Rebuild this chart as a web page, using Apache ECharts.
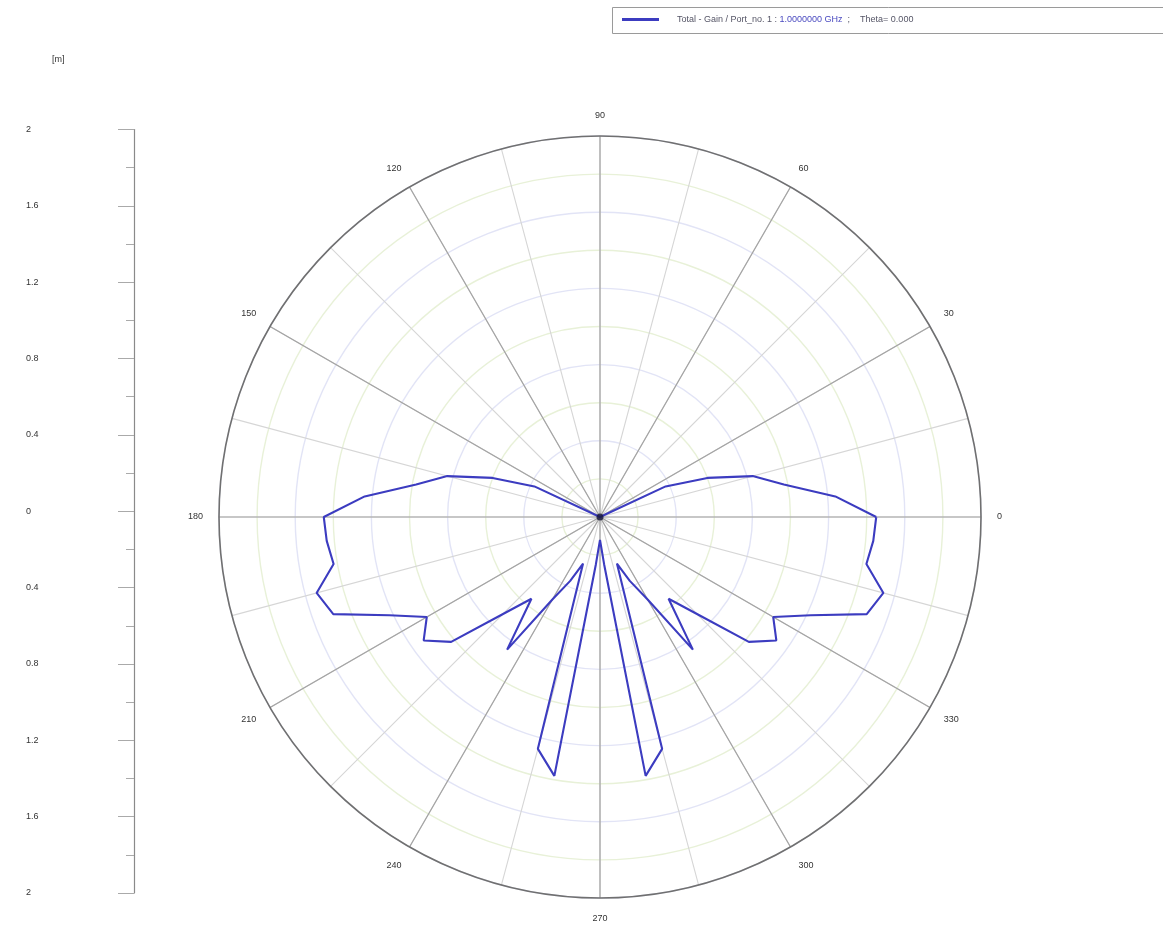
<!DOCTYPE html>
<html>
<head>
<meta charset="utf-8">
<title>Polar gain pattern</title>
<script src="https://cdn.jsdelivr.net/npm/echarts@6/dist/echarts.min.js"></script>
<style>
  html, body { margin: 0; padding: 0; background: #ffffff; }
  #chart { width: 1163px; height: 939px; }
</style>
</head>
<body>
<div id="chart"></div>
<script>
// Direction of each sample, degrees (0 = right, counter-clockwise)
const angleDeg = [
  0, 5, 10, 15, 20, 25, 30, 35, 40, 45, 50, 55, 60, 65, 70, 75, 80, 85,
  90, 95, 100, 105, 110, 115, 120, 125, 130, 135, 140, 145, 150, 155, 160, 165, 170, 175,
  180, 185, 190, 195, 200, 205, 210, 215, 220, 225, 230, 235, 240, 245, 250, 255, 260, 265,
  270, 275, 280, 285, 290, 295, 300, 305, 310, 315, 320, 325, 330, 335, 340, 345, 350, 355,
  360
];

// Total gain magnitude at each direction
const gainValues = [
  1.45, 1.24, 0.98, 0.83, 0.60, 0.38, 0, 0, 0, 0, 0, 0, 0, 0, 0, 0, 0, 0,
  0, 0, 0, 0, 0, 0, 0, 0, 0, 0, 0, 0, 0, 0.38, 0.60, 0.83, 0.98, 1.24,
  1.45, 1.44, 1.42, 1.54, 1.49, 1.22, 1.05, 1.13, 1.02, 0.72, 0.56, 0.85, 0.50, 0.37, 0.26, 1.26, 1.38, 0.25,
  0.12, 0.25, 1.38, 1.26, 0.26, 0.37, 0.50, 0.85, 0.56, 0.72, 1.02, 1.13, 1.05, 1.22, 1.49, 1.54, 1.42, 1.44,
  1.45
];

// Side ruler range and spacing
const rulerMin = -2;
const rulerMax = 2;
const rulerStep = 0.4;

// Polar grid spacing
const radiusMax = 2;
const ringStep = 0.2;
const fineSpokeStep = 15;
const mainSpokeStep = 30;

// Origin marker
const originPoint = [[0, 0]];

const seriesName = 'Total - Gain / Port_no. 1 : 1.0000000 GHz ;   Theta= 0.000';
const unitLabel = '[m]';

const patternData = angleDeg.map((a, i) => [gainValues[i], a]);

const font = 'Liberation Sans, Arial, sans-serif';
const center = [600, 517];
const radius = 381;
const chart = echarts.init(document.getElementById('chart'), null, { renderer: 'canvas' });

chart.setOption({
  animation: false,
  backgroundColor: '#ffffff',
  textStyle: { fontFamily: font },
  graphic: [
    {
      type: 'rect',
      shape: { x: 612.5, y: 7.5, width: 560, height: 26 },
      style: { fill: '#ffffff', stroke: '#9a9a9a', lineWidth: 1 },
      z: 0
    },
    {
      type: 'text',
      left: 52, top: 55,
      style: { text: unitLabel, fill: '#333333', font: '9px ' + font }
    }
  ],
  legend: {
    data: [seriesName],
    left: 622,
    top: 15,
    icon: 'rect',
    itemWidth: 37,
    itemHeight: 3,
    padding: 0,
    formatter: () => '{a|Total - Gain / Port_no. 1 : }{b|1.0000000 GHz}{a|  ;    Theta= 0.000}',
    textStyle: {
      fontSize: 9,
      fontFamily: font,
      padding: [0, 0, 0, 13],
      rich: {
        a: { fontSize: 9, color: '#555566', fontFamily: font },
        b: { fontSize: 9, color: '#4a4ac0', fontFamily: font }
      }
    }
  },
  grid: { left: 134, top: 129.5, width: 1, height: 763.5 },
  xAxis: { type: 'value', show: false, min: 0, max: 1 },
  yAxis: {
    type: 'value',
    min: rulerMin,
    max: rulerMax,
    interval: rulerStep,
    axisLine: { show: true, lineStyle: { color: '#8a8a8a', width: 1.2 } },
    axisTick: { show: true, length: 16, lineStyle: { color: '#aaaaaa' } },
    minorTick: { show: true, splitNumber: 2, length: 8, lineStyle: { color: '#aaaaaa' } },
    splitLine: { show: false },
    minorSplitLine: { show: false },
    axisLabel: {
      align: 'left',
      margin: 108,
      fontSize: 9,
      color: '#333333',
      fontFamily: font,
      formatter: v => String(+Math.abs(v).toFixed(1))
    }
  },
  polar: [
    { center: center, radius: radius },
    { center: center, radius: radius }
  ],
  angleAxis: [
    {
      // fine spokes every 15 degrees
      polarIndex: 0,
      type: 'value',
      min: 0,
      max: 360,
      interval: fineSpokeStep,
      startAngle: 0,
      clockwise: false,
      axisLine: { show: false },
      axisTick: { show: false },
      axisLabel: { show: false },
      splitLine: { show: true, lineStyle: { color: '#d6d6d6', width: 1.1 } }
    },
    {
      // main spokes and labels every 30 degrees
      polarIndex: 1,
      type: 'value',
      min: 0,
      max: 360,
      interval: mainSpokeStep,
      startAngle: 0,
      clockwise: false,
      axisLine: { show: true, lineStyle: { color: '#707070', width: 1.6 } },
      axisTick: { show: false },
      axisLabel: {
        margin: 16,
        fontSize: 9,
        color: '#333333',
        fontFamily: font,
        formatter: v => (v < 360 ? String(v) : '')
      },
      splitLine: { show: true, lineStyle: { color: '#a4a4a4', width: 1.2 } }
    }
  ],
  radiusAxis: [
    {
      polarIndex: 0,
      type: 'value',
      min: 0,
      max: radiusMax,
      interval: ringStep,
      axisLine: { show: false },
      axisTick: { show: false },
      axisLabel: { show: false },
      splitLine: { show: true, lineStyle: { color: ['#e2e4f6', '#e8f1d8'], width: 1.4 } }
    },
    {
      polarIndex: 1,
      type: 'value',
      min: 0,
      max: radiusMax,
      interval: ringStep,
      axisLine: { show: false },
      axisTick: { show: false },
      axisLabel: { show: false },
      splitLine: { show: false }
    }
  ],
  series: [
    {
      name: seriesName,
      type: 'line',
      coordinateSystem: 'polar',
      polarIndex: 1,
      data: patternData,
      showSymbol: false,
      symbol: 'none',
      lineStyle: { color: '#3c3cc0', width: 2.1 },
      itemStyle: { color: '#3c3cc0' },
      z: 5
    },
    {
      name: 'origin',
      type: 'scatter',
      coordinateSystem: 'polar',
      polarIndex: 1,
      data: originPoint,
      symbolSize: 7,
      itemStyle: { color: '#15153a' },
      z: 6
    }
  ]
});
</script>
</body>
</html>
